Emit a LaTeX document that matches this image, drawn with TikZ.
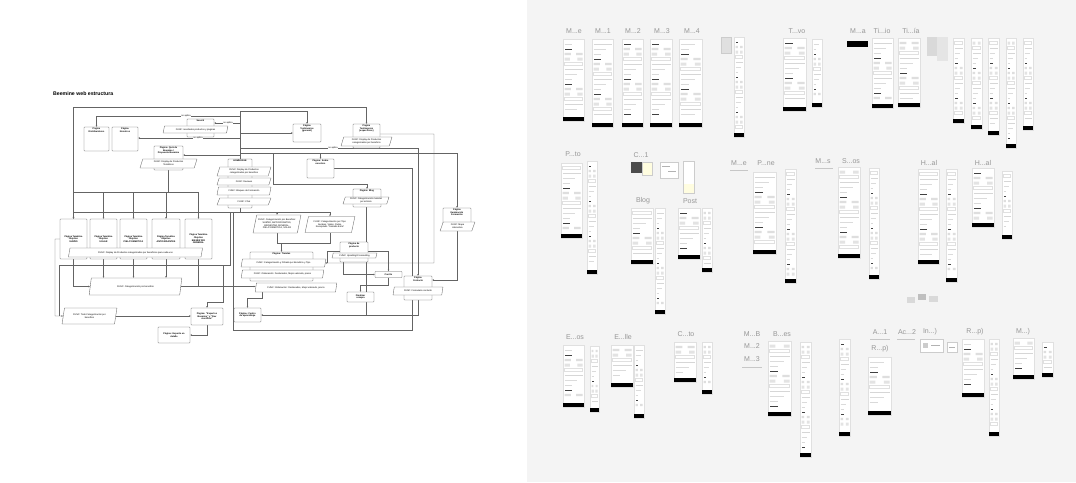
\documentclass[tikz,border=0pt]{standalone}
\usepackage{fontspec}
\setmainfont{Liberation Sans}
\usetikzlibrary{shapes.geometric,arrows.meta}
\pgfdeclarelayer{bg}
\pgfsetlayers{bg,main}
\definecolor{canvas}{RGB}{244,244,244}
\definecolor{labc}{RGB}{150,150,150}
\definecolor{edge}{RGB}{100,100,100}
\newcommand\fx{\fontsize{2.3}{2.65}\selectfont}
\newcommand\fw{\fontsize{7}{8}\selectfont}
\newcommand\wf[4]{%
 \fill[white] (#1,#2) rectangle (#3,#4);
 \draw[black!12,line width=0.3pt] (#1,#2) rectangle (#3,#4);
 \pgfmathsetmacro\wfa{#1+1.5}\pgfmathsetmacro\wfb{#3-1.5}%
 \pgfmathsetmacro\wfq{#1+1.5+0.25*(#3-#1)}%
 \pgfmathsetmacro\wfrr{#3-1.5-0.25*(#3-#1)}%
 \pgfmathsetmacro\wfm{#1+0.38*(#3-#1)}%
 \pgfmathsetmacro\wfmm{#1+0.62*(#3-#1)}%
 \pgfmathsetmacro\wfh{#1+0.42*(#3-#1)}%
 \pgfmathsetmacro\wfs{#1+0.68*(#3-#1)}%
 \pgfmathtruncatemacro\wfn{(#4-#2-9)/5}%
 \foreach \k in {1,...,\wfn}{%
   \pgfmathsetmacro\yy{#2+\k*5}%
   \pgfmathtruncatemacro\mm{mod(\k*3+#1,7)}%
   \ifcase\mm
     \draw[black!16,line width=0.5pt] (\wfa,\yy) -- (\wfb,\yy);
   \or
     \fill[black!11] (\wfa,\yy-1.5) rectangle (\wfq,\yy+1.5) (\wfrr,\yy-1.5) rectangle (\wfb,\yy+1.5);
   \or
     \fill[black!75] (\wfa,\yy-0.45) rectangle (\wfh,\yy+0.45);
   \or
     \draw[black!14,line width=0.4pt] (\wfa,\yy) -- (\wfs,\yy);
   \or
     \draw[black!12,line width=0.3pt] (\wfa,\yy-1.5) rectangle (\wfb,\yy+1.5);
   \or
     \fill[black!13] (\wfa,\yy-1.2) rectangle (\wfm,\yy+1.2) (\wfmm,\yy-1.2) rectangle (\wfb,\yy+1.2);
   \or
     \draw[black!15,line width=0.4pt] (\wfa,\yy) -- (\wfh,\yy);
   \fi}%
 \fill[black] (#1,#4-4.5) rectangle (#3,#4);
}
\tikzset{
 ln/.style={draw=edge, line width=0.3pt},
 arr/.style={ln, -{Stealth[length=1.8pt,width=1.5pt]}},
 arrtwo/.style={ln, {Stealth[length=1.8pt,width=1.5pt]}-{Stealth[length=1.8pt,width=1.5pt]}},
 box/.style={draw=edge, line width=0.35pt, fill=white, rounded corners=0.6pt, inner sep=0.4pt, align=center, font=\fx\bfseries},
 toplab/.style={anchor=north, inner sep=0.8pt, align=center, font=\fx\bfseries},
 func/.style={trapezium, trapezium left angle=72, trapezium right angle=108, trapezium stretches=true, draw=edge, line width=0.35pt, fill=white, inner sep=0.3pt, align=center, font=\fx},
 na/.style={font=\fx, fill=white, inner sep=0.3pt},
 wlab/.style={font=\fw, text=labc, inner sep=0pt},
 sep/.style={draw=black!22, line width=0.3pt},
}
\begin{document}
\begin{tikzpicture}[x=1pt,y=-1pt]
\useasboundingbox (0,0) rectangle (1076,482);
\begin{pgfonlayer}{bg}
\fill[canvas] (527,0) rectangle (1076,482);
\end{pgfonlayer}

% ---------------- flowchart ----------------
\node[anchor=west, font=\fontsize{5.2}{6}\selectfont\bfseries, inner sep=0pt] (title) at (53,94) {Beemine web estructura};

\node[box, minimum width=25, minimum height=24, label={[toplab]north:{Página\\Distribuidores}}] (dist) at (96.5,139) {};
\node[box, minimum width=26, minimum height=24, label={[toplab]north:{Página\\Nosotros}}] (nos) at (125,139) {};
\node[box, minimum width=27, minimum height=18, label={[toplab]north:{Search}}] (search) at (200.5,128) {};
\node[func, minimum width=65, minimum height=7] (searchf) at (195.5,129.5) {FUNC: resultados productos y páginas};
\node[box, minimum width=29, minimum height=24, label={[toplab]north:{Página: Quiz de\\Beemine /\\Propuesta Beemine}}] (quiz) at (168.5,158) {};
\node[func, minimum width=57, minimum height=9] (quizf) at (168.5,163.5) {FUNC: Display de Productos\\Temáticos};
\node[box, minimum width=28, minimum height=18, label={[toplab]north:{Página\\Testimonios\\(general)}}] (testg) at (307,133) {};
\node[box, minimum width=27, minimum height=24, label={[toplab]north:{Página\\Testimonios\\(específicos)}}] (teste) at (366.5,136) {};
\node[func, minimum width=51, minimum height=9] (testef) at (366.5,141.5) {FUNC: Display de Productos\\categorizados por beneficio};
\node[box, minimum width=27, minimum height=19, label={[toplab]north:{Página: Sobre\\nosotros}}] (sobre) at (320.5,168.5) {};

\node[box, minimum width=24, minimum height=49, label={[toplab]north:{HOMEPAGE}}] (home) at (240,183.5) {};
\node[func, minimum width=54, minimum height=9] (hf1) at (244,171.5) {FUNC: Display de Productos\\categorizados por beneficio};
\node[func, minimum width=54, minimum height=7] (hf2) at (244,181.5) {FUNC: Reviews};
\node[func, minimum width=54, minimum height=8] (hf3) at (244,191) {FUNC: Bloques de Formación};
\node[func, minimum width=54, minimum height=7] (hf4) at (244,201.5) {FUNC: Chat};

\node[box, minimum width=28, minimum height=18, label={[toplab]north:{Página: Blog}}] (blog) at (367,198) {};
\node[func, minimum width=46, minimum height=7] (blogf) at (366,200.5) {FUNC: Categorización material\\por artículo};

\node[box, minimum width=27, minimum height=40] (t1) at (73.5,239) {Página Temática\\Objetivo\\SUEÑO};
\node[box, minimum width=27, minimum height=40] (t2) at (103.5,239) {Página Temática\\Objetivo\\SOLAR};
\node[box, minimum width=27, minimum height=40] (t3) at (133.5,239) {Página Temática\\Objetivo\\PIEL/COSMÉTICA};
\node[box, minimum width=28, minimum height=40] (t4) at (166,239) {Página Temática\\Objetivo\\ANTIOXIDANTES};
\node[box, minimum width=27, minimum height=40] (t5) at (198.5,239) {Página Temática\\Objetivo\\BIENESTAR\\GENERAL};
\node[func, minimum width=135, minimum height=9] (tf) at (135.5,252.5) {FUNC: Display de Productos categorizados por beneficios para cada uno};
\node[func, minimum width=93, minimum height=17] (cpb) at (135.5,286.5) {FUNC: Categorización por beneficio};
\node[func, minimum width=55, minimum height=16] (ftodo) at (89.5,316) {FUNC: Todo Categorización por\\beneficio};
\node[box, minimum width=32, minimum height=17] (exp) at (207,316.5) {Página: “Expertos\\Beemine” y “Rev\\científica”};
\node[box, minimum width=32, minimum height=16] (det) at (174,335) {Página: Experto en\\detalle};
\node[box, minimum width=27, minimum height=14] (centro) at (247.5,315) {Página: Centro\\de aprendizaje};

\node[func, minimum width=48, minimum height=18] (catb) at (277,224) {FUNC: Categorización por Beneficio:\\SUEÑO, ANTIOXIDANTES,\\BIENESTAR GENERAL,\\PIEL/COSMÉTICA, SOLAR};
\node[func, minimum width=50, minimum height=16] (catt) at (330,224.5) {FUNC: Categorización por Tipo:\\Jarabes, Viales, Packs,\\Recopilado “Cuidado Extra”};
\node[box, minimum width=63, minimum height=29, label={[toplab]north:{Página: Tiendas}}] (tiendas) at (281.5,266.5) {};
\node[func, minimum width=85, minimum height=8] (tf1) at (283.5,263) {FUNC: Categorización y Filtrado por Beneficio y Tipo};
\node[func, minimum width=83, minimum height=8] (tf2) at (282.5,274) {FUNC: Ordenación: Destacados, Mejor valorado, precio};
\node[func, minimum width=82, minimum height=9] (tf3) at (296,287.5) {FUNC: Ordenación: Destacados, Mejor valorado, precio};
\node[box, minimum width=28, minimum height=20, label={[toplab]north:{Página de\\producto}}] (prod) at (354,252) {};
\node[func, minimum width=45, minimum height=5] (upf) at (354.5,255.5) {FUNC: Upselling/Crossselling};
\node[box, minimum width=27, minimum height=6] (carrito) at (388.5,274.5) {Carrito};
\node[box, minimum width=27, minimum height=10] (fin) at (360.5,297) {Finalizar\\compra};
\node[box, minimum width=28, minimum height=24, label={[toplab]north:{Página\\Contacto}}] (contacto) at (418,288) {};
\node[func, minimum width=50, minimum height=8] (contf) at (418,291) {FUNC: Formulario contacto};
\node[box, minimum width=28, minimum height=22, label={[toplab]north:{Página\\Iluminación\\Formación}}] (ilum) at (457,219) {};
\node[func, minimum width=35, minimum height=9] (ilumf) at (457.5,226.5) {FUNC: Mapa\\interactivo};

\node[na] (na1) at (186,116) {no aplica};
\node[na] (na2) at (228,123) {no aplica};
\node[na] (na3) at (198,138) {no aplica};
\node[na] (na4) at (333,148) {no aplica};

\begin{pgfonlayer}{bg}
\draw[ln] (home.north) -- (home.north |- 0,111);
\draw[arr] (home.north |- 0,116) -| (dist.north);
\draw[arr] (home.north |- 0,123) -- (search.east |- 0,123);
\draw[arr] (home.north |- 0,138) -- (nos.east |- 0,138);
\draw[arr] (home.north |- 0,155) -- (quiz.east |- 0,155);
\draw[arr] (home.north |- 0,111) -| (testg.north);
\draw[arr] (home.north |- 0,133) -- (testg.west |- 0,133);
\draw[arrtwo] (t1.north) -- (t1.north |- 0,107) -| (teste.north);
\draw[arr] (teste.east |- 0,134) -| (434,263) -- (tf1.east);
\draw[arr] (home.north |- 0,148) -| (contacto.north);
\draw[arr] (home.north |- 0,153) -| (ilum.north);
\draw[arr] (sobre.north |- 0,153) -- (sobre.north);
\draw[ln] (sobre.east |- 0,168) -| (412,330) -| (233,212);
\draw[arr] (273,153) |- (blog.north |- 0,184) -- (blog.north);
\draw[ln] (blogf.south) -- (blogf.south |- 0,315);
\draw[arr] (contacto.south) |- (centro.east);
\draw[ln] (quizf.south) -- (quizf.south |- 0,192);
\draw[ln] (t1.north |- 0,192) -- (t5.north |- 0,192);
\foreach \n in {t1,t2,t3,t4,t5} \draw[arr] (\n.north |- 0,192) -- (\n.north);
\draw[ln] (home.south) -- (home.south |- 0,212);
\draw[ln] (t1.north |- 0,212) -- (catt.north |- 0,212);
\draw[arr] (catb.north |- 0,212) -- (catb.north);
\draw[arr] (catt.north |- 0,212) -- (catt.north);
\draw[ln] (catb.south) |- (catt.south |- 0,243) -- (catt.south);
\draw[arr] (tiendas.north |- 0,243) -- (tiendas.north);
\draw[arr] (t1.south) |- (cpb.west);
\foreach \n in {t2,t3,t4} \draw[arr] (\n.south) -- (\n.south |- cpb.north);
\draw[ln] (t5.south) |- (cpb.east);
\draw[arr] (cpb.east) -- (tf3.west |- cpb.east);
\draw[arr] (t1.west) -| (55,316) -- (ftodo.west);
\draw[ln] (230,212) |- (59,265) -- (59,316);
\draw[arr] (223,265) |- (exp.north |- 0,302) -- (exp.north);
\draw[arr] (ftodo.east) -- (exp.west |- ftodo.east);
\draw[arr] (exp.south) |- (det.east);
\draw[arr] (tf3.south -| 262,0) |- (centro.north |- 0,298) -- (centro.north);
\draw[ln] (prod.west |- 0,251) -| (327,263);
\draw[arr] (prod.east |- 0,251) -| (carrito.north);
\draw[arr] (prod.south -| 343,0) |- (carrito.west);
\draw[arr] (carrito.south) |- (fin.north |- 0,285) -- (fin.north);
\draw[arr] (ilum.south) |- (contacto.east |- 0,280);
\end{pgfonlayer}

% ---------------- canvas of wireframes ----------------
% row 1
\wf{563}{39}{584}{121}
\wf{592}{39}{613}{127}
\wf{622}{39}{643}{127}
\wf{650}{39}{672}{127}
\wf{679}{39}{702}{127}
\fill[black!12] (721,37) rectangle (731,53);
\draw[black!20,line width=0.3pt] (721,37) rectangle (731,53);
\wf{734}{37}{744}{137}
\wf{783}{38}{806}{111}
\wf{812}{39}{822}{107}
\fill[black] (847,41) rectangle (868,47);
\wf{872}{38}{893}{108}
\wf{898}{38}{920}{107}
\fill[black!15] (927,37) rectangle (937,56);
\fill[black!10] (937,37) rectangle (948,61);
\wf{953}{38}{964}{123}
\wf{971}{38}{982}{129}
\wf{988}{38}{999}{135}
\wf{1006}{38}{1016}{148}
\wf{1023}{38}{1033}{130}
% row 2
\wf{561}{163}{582}{238}
\wf{587}{161}{597}{274}
\fill[black!70] (631,162) rectangle (642,173);
\fill[yellow!12] (642,162) rectangle (652,175);
\draw[black!20,line width=0.3pt] (642,162) rectangle (652,175);
\fill[white] (660,162) rectangle (678,178);
\draw[black!20,line width=0.3pt] (660,162) rectangle (678,178);
\draw[black!30,line width=0.4pt] (662,166) -- (670,166) (668,171) -- (676,171);
\fill[white] (683,161) rectangle (694,193);
\fill[yellow!12] (683,184) rectangle (694,193);
\draw[black!20,line width=0.3pt] (683,161) rectangle (694,193);
\wf{631}{208}{653}{264}
\wf{655}{208}{665}{314}
\wf{678}{208}{700}{259}
\wf{702}{208}{712}{272}
\wf{753}{172}{776}{254}
\wf{785}{169}{796}{283}
\wf{838}{167}{860}{258}
\wf{869}{168}{879}{279}
\wf{918}{169}{939}{264}
\wf{946}{169}{957}{282}
\wf{972}{168}{994}{227}
\wf{1002}{171}{1012}{239}
\fill[black!15] (907,297) rectangle (915,303);
\fill[black!25] (918,294) rectangle (926,300);
\fill[black!15] (929,296) rectangle (938,302);
% row 3
\wf{563}{345}{584}{407}
\wf{590}{346}{599}{412}
\wf{611}{345}{633}{387}
\wf{634}{345}{644}{418}
\wf{674}{342}{696}{382}
\wf{702}{342}{712}{394}
\wf{768}{341}{791}{416}
\wf{800}{342}{811}{457}
\wf{839}{339}{850}{436}
\wf{868}{357}{891}{415}
\fill[white] (920,339) rectangle (943,352);
\draw[black!20,line width=0.3pt] (920,339) rectangle (943,352);
\fill[black!20] (923,343) rectangle (928,348);
\draw[black!30,line width=0.4pt] (931,345) -- (940,345);
\fill[white] (947,342) rectangle (957,352);
\draw[black!20,line width=0.3pt] (947,342) rectangle (957,352);
\draw[black!30,line width=0.4pt] (949,347) -- (955,347);
\wf{962}{339}{984}{397}
\wf{989}{339}{999}{436}
\wf{1013}{338}{1034}{379}
\wf{1042}{342}{1053}{377}

% labels
\node[wlab] (la1) at (574,31) {M...e};
\node[wlab] (la2) at (603,31) {M...1};
\node[wlab] (la3) at (633,31) {M...2};
\node[wlab] (la4) at (662,31) {M...3};
\node[wlab] (la5) at (692,31) {M...4};
\node[wlab] (la6) at (797,31) {T...vo};
\node[wlab] (la7) at (858,31) {M...a};
\node[wlab] (la8) at (882,31) {Ti...io};
\node[wlab] (la9) at (911,31) {Ti...ía};
\node[wlab] (lb1) at (573,154) {P...to};
\node[wlab] (lb2) at (641,155) {C...1};
\node[wlab] (lb3) at (643,201) {Blog};
\node[wlab] (lb4) at (690,201) {Post};
\node[wlab] (lb5) at (739,163) {M...e};
\node[wlab] (lb6) at (766,163) {P...ne};
\node[wlab] (lb7) at (823,161) {M...s};
\node[wlab] (lb8) at (851,161) {S...os};
\node[wlab] (lb9) at (929,163) {H...al};
\node[wlab] (lb10) at (983,163) {H...al};
\node[wlab] (lc1) at (575,337) {E...os};
\node[wlab] (lc2) at (623,337) {E...lle};
\node[wlab] (lc3) at (686,334) {C...to};
\node[wlab] (lc4) at (752,334) {M...B};
\node[wlab] (lc5) at (752,346) {M...2};
\node[wlab] (lc6) at (752,359) {M...3};
\node[wlab] (lc7) at (782,334) {B...es};
\node[wlab] (lc8) at (880,332) {A...1};
\node[wlab] (lc9) at (907,332) {Ac...2};
\node[wlab] (lc10) at (930,332) {In...)};
\node[wlab] (lc11) at (880,349) {R...p)};
\node[wlab] (lc12) at (975,332) {R...p)};
\node[wlab] (lc13) at (1023,332) {M...)};
\draw[sep] (730,170) -- (748,170);
\draw[sep] (815,168) -- (833,168);
\draw[sep] (742,367) -- (762,367);
\draw[sep] (870,339) -- (890,339);
\draw[sep] (897,339) -- (915,339);
\end{tikzpicture}
\end{document}
